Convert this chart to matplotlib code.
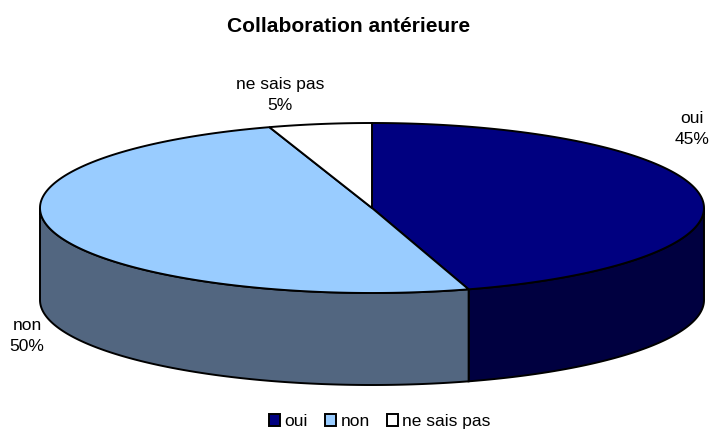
import numpy as np
import matplotlib
matplotlib.use("Agg")
import matplotlib.pyplot as plt
from matplotlib.patches import Patch, Polygon

# Chart data
categories = ["oui", "non", "ne sais pas"]
values = [45.3, 49.7, 5.0]
top_colors = ["#000080", "#99CCFF", "#FFFFFF"]
side_colors = ["#000040", "#526680", "#808080"]

# Pie geometry, in pixels of the picture
CX, CY = 372, 208
RX, RY = 332, 85
DEPTH = 92

plt.rcParams["font.family"] = ["Liberation Sans", "DejaVu Sans"]


def rim(start, end):
    """Points on the top ellipse, angles clockwise from 12 o'clock (degrees)."""
    n = max(int(abs(end - start) * 2), 2)
    t = np.radians(np.linspace(start, end, n))
    return CX + RX * np.sin(t), CY - RY * np.cos(t)


fig = plt.figure(figsize=(7.14, 4.30), dpi=100)
ax = fig.add_axes([0, 0, 1, 1])
ax.set_xlim(0, 714)
ax.set_ylim(430, 0)
ax.axis("off")

# Slice angles from the values
edges = np.cumsum([0] + values) / sum(values) * 360

# Side wall: only the front half (90..270 degrees) is visible
for i in range(len(values)):
    a, b = max(edges[i], 90), min(edges[i + 1], 270)
    if a >= b:
        continue
    x, y = rim(a, b)
    pts = np.r_[np.c_[x, y], np.c_[x[::-1], y[::-1] + DEPTH]]
    ax.add_patch(Polygon(pts, closed=True, facecolor=side_colors[i],
                         edgecolor="black", linewidth=1.4))

# Top faces
for i in range(len(values)):
    x, y = rim(edges[i], edges[i + 1])
    pts = np.r_[[[CX, CY]], np.c_[x, y]]
    ax.add_patch(Polygon(pts, closed=True, facecolor=top_colors[i],
                         edgecolor="black", linewidth=1.4))

ax.text(349, 26, "Collaboration antérieure", ha="center", va="center",
        fontsize=15.1, fontweight="bold")

label_style = dict(ha="center", va="center", fontsize=12.5, linespacing=1.45, multialignment="center")
ax.text(280, 95, f"{categories[2]}\n{values[2]:.0f}%", **label_style)
ax.text(692, 129, f"{categories[0]}\n{values[0]:.0f}%", **label_style)
ax.text(27, 336, f"{categories[1]}\n{values[1]:.0f}%", **label_style)

handles = [Patch(facecolor=c, edgecolor="black", linewidth=1.4) for c in top_colors]
ax.legend(handles, categories, loc="center", bbox_to_anchor=(380 / 714, 1 - 421.5 / 430),
          ncol=3, frameon=False, fontsize=12.5, handlelength=0.63, handleheight=0.63,
          handletextpad=0.23, columnspacing=1.03, borderpad=0)

fig.savefig("out.png", dpi=100)
